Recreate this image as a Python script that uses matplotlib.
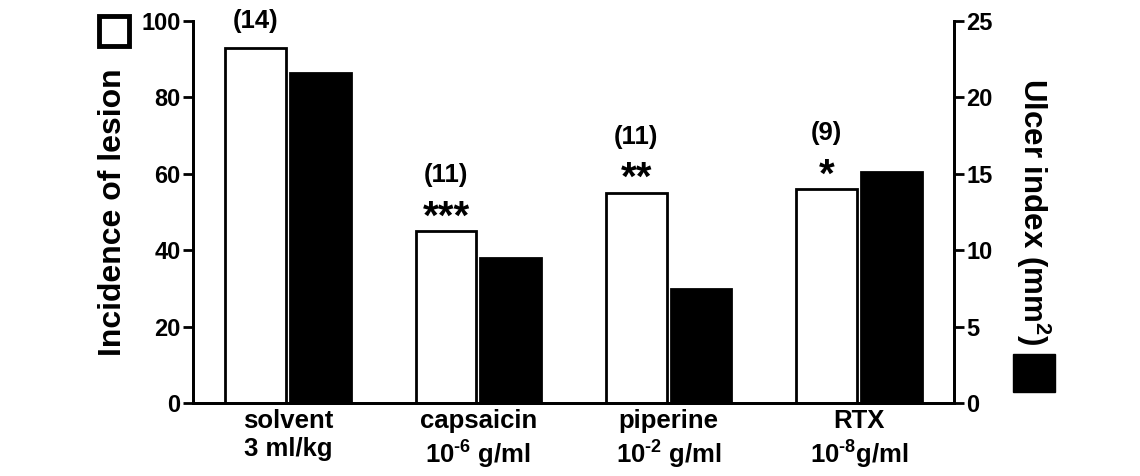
import matplotlib
matplotlib.use("Agg")
import matplotlib.pyplot as plt
from matplotlib.patches import Rectangle
import numpy as np

plt.rcParams['font.family'] = ['Liberation Sans', 'DejaVu Sans']
plt.rcParams['font.weight'] = 'bold'
plt.rcParams['mathtext.fontset'] = 'custom'
plt.rcParams['mathtext.rm'] = 'Liberation Sans:bold'
plt.rcParams['mathtext.it'] = 'Liberation Sans:bold'
plt.rcParams['mathtext.bf'] = 'Liberation Sans:bold'
plt.rcParams['mathtext.default'] = 'regular'

# ---- data ----
categories = ["solvent\n3 ml/kg", "capsaicin\n$10^{\\text{-6}}$ g/ml",
              "piperine\n$10^{\\text{-2}}$ g/ml", "RTX\n$10^{\\text{-8}}$g/ml"]
incidence = [93, 45, 55, 56]          # left axis, white bars
ulcer_index = [21.6, 9.5, 7.45, 15.1]  # right axis, black bars
n_labels = ["(14)", "(11)", "(11)", "(9)"]
stars = ["", "***", "**", "*"]
left_ticks = [0, 20, 40, 60, 80, 100]
right_ticks = [0, 5, 10, 15, 20, 25]

W, H = 1140, 476
fig = plt.figure(figsize=(W / 100, H / 100), dpi=100)
ax = fig.add_axes([193 / W, 1 - 403 / H, (954 - 193) / W, (403 - 21) / H])
ax2 = ax.twinx()

x = np.arange(len(categories))
bw = 0.32
off = 0.17
lw = 2.0

ax.bar(x - off, incidence, width=bw, facecolor='white', edgecolor='black',
       linewidth=lw, zorder=3)
ax2.bar(x + off, ulcer_index, width=bw, facecolor='black', edgecolor='black',
        linewidth=lw, zorder=3)

ax.set_xlim(-0.5, 3.5)
ax.set_ylim(0, 100)
ax2.set_ylim(0, 25)
ax.set_yticks(left_ticks)
ax2.set_yticks(right_ticks)
ax.set_xticks(x)
ax.set_xticklabels(categories, fontsize=18.5, fontweight='bold', linespacing=1.25)
ax.tick_params(axis='x', length=0, pad=4)
ax.tick_params(axis='y', labelsize=17, width=2, length=7, pad=2)
ax2.tick_params(axis='y', labelsize=17, width=2, length=7, pad=2)

for a in (ax, ax2):
    a.spines['top'].set_visible(False)
    for s in ('left', 'right', 'bottom'):
        a.spines[s].set_linewidth(2)
    for lab in a.get_yticklabels():
        lab.set_fontweight('bold')

# annotations
for i in range(len(categories)):
    if stars[i]:
        ax.annotate(stars[i], xy=(x[i] - off, incidence[i]), xytext=(0, 2),
                    textcoords='offset points', ha='center', va='baseline',
                    fontsize=29, fontweight='bold')
        ax.annotate(n_labels[i], xy=(x[i] - off, incidence[i]), xytext=(0, 35),
                    textcoords='offset points', ha='center', va='baseline',
                    fontsize=18.5, fontweight='bold')
    else:
        ax.annotate(n_labels[i], xy=(x[i] - off, incidence[i]), xytext=(0, 14),
                    textcoords='offset points', ha='center', va='baseline',
                    fontsize=18.5, fontweight='bold')

# axis labels
fig.text(113 / W, 1 - 212 / H, "Incidence of lesion", rotation=90,
         ha='center', va='center', fontsize=23, fontweight='bold')
fig.text(1033 / W, 1 - 212 / H, "Ulcer index (mm$^2$)", rotation=-90,
         ha='center', va='center', fontsize=22.5, fontweight='bold')

# legend keys
fig.patches.append(Rectangle((99 / W, 1 - 46 / H), 30 / W, 30 / H,
                             transform=fig.transFigure, facecolor='white',
                             edgecolor='black', linewidth=3.5))
fig.patches.append(Rectangle((1013 / W, 1 - 392 / H), 42 / W, 38 / H,
                             transform=fig.transFigure, facecolor='black',
                             edgecolor='black', linewidth=1))

fig.savefig("out.png", dpi=100)
